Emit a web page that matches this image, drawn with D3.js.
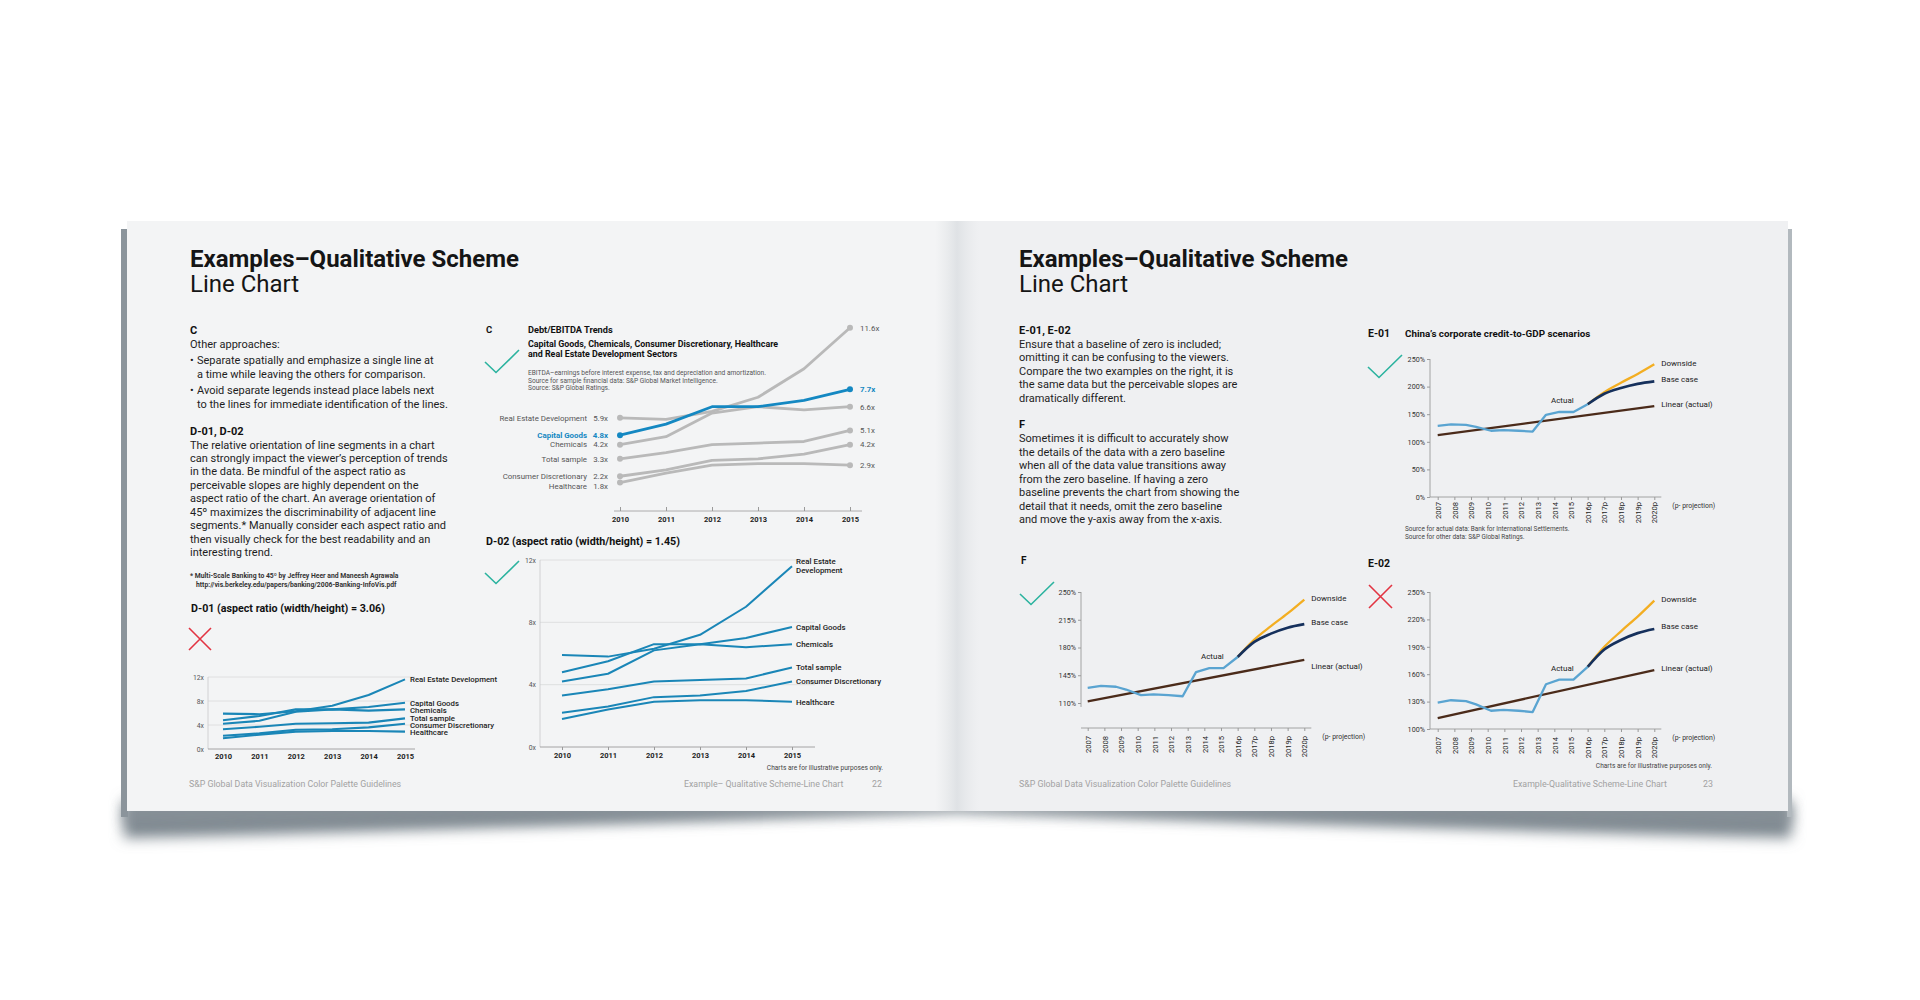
<!DOCTYPE html>
<html><head><meta charset="utf-8">
<script src="https://cdn.jsdelivr.net/npm/d3@7"></script>
<style>
html,body{margin:0;padding:0;background:#fff;}
svg{display:block;}
</style></head>
<body><svg id="c" width="1920" height="1000"></svg>
<script>
// ---------------- DATA ----------------
const years = [2010, 2011, 2012, 2013, 2014, 2015];
const sectorNames = ["Real Estate Development", "Capital Goods", "Chemicals", "Total sample", "Consumer Discretionary", "Healthcare"];
const realEstate   = [5.9, 5.8, 6.3, 7.2, 9.0, 11.6];
const capitalGoods = [4.8, 5.5, 6.6, 6.6, 7.0, 7.7];
const chemicals    = [4.2, 4.7, 6.2, 6.6, 6.4, 6.6];
const totalSample  = [3.3, 3.7, 4.2, 4.3, 4.4, 5.1];
const consumerDisc = [2.2, 2.6, 3.2, 3.3, 3.6, 4.2];
const healthcare   = [1.8, 2.4, 2.9, 3.0, 3.0, 2.9];
const sectorValues = [realEstate, capitalGoods, chemicals, totalSample, consumerDisc, healthcare];
const multipleTicks = [0, 4, 8, 12];

const chinaTickYears = [2007, 2008, 2009, 2010, 2011, 2012, 2013, 2014, 2015, 2016, 2017, 2018, 2019, 2020];
const chinaTickLabels = ["2007", "2008", "2009", "2010", "2011", "2012", "2013", "2014", "2015", "2016p", "2017p", "2018p", "2019p", "2020p"];
const actualYears = [2007, 2007.8, 2008.7, 2009.3, 2010.2, 2010.95, 2011.85, 2012.7, 2013.5, 2014.3, 2015.15, 2016];
const actualVals  = [129, 131.5, 130.5, 127, 120, 121, 120, 118.5, 149, 154, 154, 168];
const projYears   = [2016, 2017, 2018, 2019, 2020];
const baseVals    = [168, 187, 197.5, 205, 209.5];
const downVals    = [168, 190, 207, 223, 240.5];
const linearYears = [2007, 2020];
const linearVals  = [112, 164.5];
const e01Ticks = [0, 50, 100, 150, 200, 250];
const fTicks   = [110, 145, 180, 215, 250];
const e02Ticks = [100, 130, 160, 190, 220, 250];

// ---------------- SETUP ----------------
const FONT = "Roboto, 'Liberation Sans', Arial, sans-serif";
const svg = d3.select("#c");
const defs = svg.append("defs");
function hGrad(id, stops) {
  const g = defs.append("linearGradient").attr("id", id).attr("x1", 0).attr("y1", 0).attr("x2", 1).attr("y2", 0);
  stops.forEach(s => g.append("stop").attr("offset", s[0]).attr("stop-color", s[1]).attr("stop-opacity", s[2]));
}
hGrad("spine", [["0%", "#e6e8ea", 0], ["50%", "#dfe2e5", 1], ["100%", "#e6e8ea", 0]]);
defs.append("filter").attr("id", "blur").attr("x", "-5%").attr("y", "-100%").attr("width", "110%").attr("height", "300%")
  .append("feGaussianBlur").attr("stdDeviation", 7);

svg.append("rect").attr("width", 1920).attr("height", 1000).attr("fill", "#ffffff");
// bottom shadow (soft)
svg.append("path")
  .attr("d", "M124,800 L1791,800 L1791,838 Q1390,828 957,810 Q524,828 124,838 Z")
  .attr("fill", "#7c868e").attr("filter", "url(#blur)");
svg.append("path")
  .attr("d", "M124,806 L1791,806 L1791,824 Q1390,820 957,811 Q524,820 124,824 Z")
  .attr("fill", "#8a939a").attr("opacity", 0.8).attr("filter", "url(#blur)");
// side shadows
svg.append("rect").attr("x", 121).attr("y", 229).attr("width", 7).attr("height", 588).attr("fill", "#8b949b");
svg.append("rect").attr("x", 1787).attr("y", 229).attr("width", 5).attr("height", 588).attr("fill", "#b2b9be");
// pages
svg.append("rect").attr("x", 127).attr("y", 221).attr("width", 830).attr("height", 590).attr("fill", "#f3f4f5");
svg.append("rect").attr("x", 957).attr("y", 221).attr("width", 831).attr("height", 590).attr("fill", "#eff0f2");
svg.append("rect").attr("x", 935).attr("y", 221).attr("width", 44).attr("height", 590).attr("fill", "url(#spine)");

function txt(g, x, y, s, o = {}) {
  const t = g.append("text").attr("x", x).attr("y", y).text(s)
    .attr("font-family", FONT)
    .attr("font-size", o.size || 10)
    .attr("font-weight", o.weight || 400)
    .attr("fill", o.color || "#1e1e1e")
    .attr("text-anchor", o.anchor || "start");
  if (o.ls) t.attr("letter-spacing", o.ls);
  return t;
}
function lines(g, x, y0, lh, arr, o) {
  arr.forEach((s, i) => txt(g, x, y0 + i * lh, s, o));
}
function check(g, x, y) {
  g.append("path").attr("d", `M${x},${y} L${x + 11},${y + 10.5} L${x + 34},${y - 12}`)
    .attr("fill", "none").attr("stroke", "#2bb39f").attr("stroke-width", 1.6);
}
function cross(g, x, y, s) {
  g.append("path").attr("d", `M${x},${y} L${x + s},${y + s} M${x + s},${y} L${x},${y + s}`)
    .attr("fill", "none").attr("stroke", "#e23442").attr("stroke-width", 1.6);
}
function dodge(items, gap) {
  items.sort((a, b) => a.y - b.y);
  for (let i = 1; i < items.length; i++) {
    if (items[i].y < items[i - 1].y + gap) items[i].y = items[i - 1].y + gap;
  }
  return items;
}
function styleAxis(g, size, color, weight) {
  g.attr("font-family", FONT).attr("font-size", size);
  g.selectAll("text").attr("fill", color).attr("font-weight", weight);
  g.selectAll(".tick line").attr("stroke", "#9a9a9a");
  g.select(".domain").remove();
}
const root = svg.append("g");

// ---------------- PAGE TEXT ----------------
const TITLE = 24;
txt(root, 190, 267, "Examples\u2013Qualitative Scheme", {size: TITLE, weight: 700, color: "#151515"});
txt(root, 190, 292, "Line Chart", {size: TITLE, weight: 400, color: "#151515"});
txt(root, 1019, 267, "Examples\u2013Qualitative Scheme", {size: TITLE, weight: 700, color: "#151515"});
txt(root, 1019, 292, "Line Chart", {size: TITLE, weight: 400, color: "#151515"});

const BODY = {size: 11, color: "#1e1e1e"};
const HEAD = {size: 11, weight: 700, color: "#111"};
txt(root, 190, 334, "C", HEAD);
txt(root, 190, 348, "Other approaches:", BODY);
txt(root, 190, 364, "\u2022", BODY); txt(root, 197, 364, "Separate spatially and emphasize a single line at", BODY);
txt(root, 197, 378, "a time while leaving the others for comparison.", BODY);
txt(root, 190, 394, "\u2022", BODY); txt(root, 197, 394, "Avoid separate legends instead place labels next", BODY);
txt(root, 197, 408, "to the lines for immediate identification of the lines.", BODY);
txt(root, 190, 435, "D-01, D-02", HEAD);
lines(root, 190, 448.5, 13.45, [
  "The relative orientation of line segments in a chart",
  "can strongly impact the viewer\u2019s perception of trends",
  "in the data. Be mindful of the aspect ratio as",
  "perceivable slopes are highly dependent on the",
  "aspect ratio of the chart. An average orientation of",
  "45\u00ba maximizes the discriminability of adjacent line",
  "segments.* Manually consider each aspect ratio and",
  "then visually check for the best readability and an",
  "interesting trend."
], BODY);
txt(root, 190, 577.5, "* Multi-Scale Banking to 45\u00ba by Jeffrey Heer and Maneesh Agrawala", {size: 6.8, weight: 700, color: "#333"});
txt(root, 196, 586.5, "http://vis.berkeley.edu/papers/banking/2006-Banking-InfoVis.pdf", {size: 6.8, weight: 700, color: "#333"});

txt(root, 1019, 334, "E-01, E-02", HEAD);
lines(root, 1019, 348, 13.4, [
  "Ensure that a baseline of zero is included;",
  "omitting it can be confusing to the viewers.",
  "Compare the two examples on the right, it is",
  "the same data but the perceivable slopes are",
  "dramatically different."
], BODY);
txt(root, 1019, 428, "F", HEAD);
lines(root, 1019, 442, 13.5, [
  "Sometimes it is difficult to accurately show",
  "the details of the data with a zero baseline",
  "when all of the data value transitions away",
  "from the zero baseline. If having a zero",
  "baseline prevents the chart from showing the",
  "detail that it needs, omit the zero baseline",
  "and move the y-axis away from the x-axis."
], BODY);

// footers
const FOOT = {size: 8.8, color: "#a2a2a2"};
txt(root, 189, 787, "S&P Global Data Visualization Color Palette Guidelines", FOOT);
txt(root, 684, 787, "Example\u2013 Qualitative Scheme-Line Chart", FOOT);
txt(root, 872, 787, "22", FOOT);
txt(root, 1019, 787, "S&P Global Data Visualization Color Palette Guidelines", FOOT);
txt(root, 1513, 787, "Example-Qualitative Scheme-Line Chart", FOOT);
txt(root, 1703, 787, "23", FOOT);
txt(root, 883, 770, "Charts are for illustrative purposes only.", {size: 6.6, color: "#444", anchor: "end"});
txt(root, 1712, 768, "Charts are for illustrative purposes only.", {size: 6.6, color: "#444", anchor: "end"});

// ---------------- CHART C ----------------
(function () {
  const g = svg.append("g");
  txt(g, 486, 333, "C", {size: 9.5, weight: 700, color: "#111"});
  txt(g, 528, 333, "Debt/EBITDA Trends", {size: 9.2, weight: 700, color: "#111"});
  txt(g, 528, 347, "Capital Goods, Chemicals, Consumer Discretionary, Healthcare", {size: 8.9, weight: 700, color: "#111"});
  txt(g, 528, 357, "and Real Estate Development Sectors", {size: 8.9, weight: 700, color: "#111"});
  const NOTE = {size: 6.6, color: "#555"};
  txt(g, 528, 375, "EBITDA\u2013earnings before interest expense, tax and depreciation and amortization.", NOTE);
  txt(g, 528, 382.5, "Source for sample financial data: S&P Global Market Intelligence.", NOTE);
  txt(g, 528, 390, "Source: S&P Global Ratings.", NOTE);
  check(g, 485, 362);

  const x = d3.scaleLinear().domain([2010, 2015]).range([620, 850]);
  const y = d3.scaleLinear().domain([0, 12]).range([511, 321.4]);
  g.append("line").attr("x1", 614).attr("x2", 862).attr("y1", y(0)).attr("y2", y(0)).attr("stroke", "#9a9a9a").attr("stroke-width", 0.8);
  const ax = g.append("g").attr("transform", `translate(0,${y(0)})`)
    .call(d3.axisBottom(x).tickValues(years).tickFormat(d3.format("d")).tickSize(-4).tickPadding(6));
  styleAxis(ax, 7.5, "#222", 700);

  const ln = d3.line().x((d, i) => x(years[i])).y(d => y(d));
  const BLUE = "#1488c2", GREY = "#b9b9b9";
  const order = [0, 2, 3, 4, 5, 1];
  order.forEach(k => {
    const col = k === 1 ? BLUE : GREY;
    g.append("path").datum(sectorValues[k]).attr("d", ln).attr("fill", "none")
      .attr("stroke", col).attr("stroke-width", 2.8).attr("stroke-linejoin", "round");
    [0, 5].forEach(i => g.append("circle").attr("cx", x(years[i])).attr("cy", y(sectorValues[k][i])).attr("r", 3).attr("fill", col));
  });
  const left = dodge(sectorValues.map((v, k) => ({k, y: y(v[0])})), 9.5);
  left.forEach(o => {
    const hl = o.k === 1;
    const st = {size: 7.9, color: hl ? BLUE : "#555", weight: hl ? 700 : 400, anchor: "end"};
    txt(g, 587, o.y + 2.8, sectorNames[o.k], st);
    txt(g, 608, o.y + 2.8, sectorValues[o.k][0].toFixed(1) + "x", st);
  });
  const right = dodge(sectorValues.map((v, k) => ({k, y: y(v[5])})), 9.5);
  right.forEach(o => {
    const hl = o.k === 1;
    txt(g, 860, o.y + 2.8, sectorValues[o.k][5].toFixed(1) + "x", {size: 7.9, color: hl ? BLUE : "#555", weight: hl ? 700 : 400});
  });
})();

// ---------------- D CHARTS ----------------
function dChart(o) {
  const g = svg.append("g");
  const x = d3.scaleLinear().domain([2010, 2015]).range(o.xr);
  const y = d3.scaleLinear().domain([0, 12]).range(o.yr);
  multipleTicks.filter(t => t > 0).forEach(t =>
    g.append("line").attr("x1", o.ax0).attr("x2", o.ax1).attr("y1", y(t)).attr("y2", y(t)).attr("stroke", "#d9dadb").attr("stroke-width", 0.8));
  g.append("line").attr("x1", o.ax0).attr("x2", o.ax0).attr("y1", y(12)).attr("y2", y(0)).attr("stroke", "#c8c9ca").attr("stroke-width", 0.8);
  g.append("line").attr("x1", o.ax0).attr("x2", o.ax1).attr("y1", y(0)).attr("y2", y(0)).attr("stroke", "#8f8f8f").attr("stroke-width", 0.8);
  const ay = g.append("g").attr("transform", `translate(${o.ax0},0)`)
    .call(d3.axisLeft(y).tickValues(multipleTicks).tickFormat(d => d + "x").tickSize(0).tickPadding(4));
  styleAxis(ay, 6.8, "#555", 400);
  const ax = g.append("g").attr("transform", `translate(0,${y(0)})`)
    .call(d3.axisBottom(x).tickValues(years).tickFormat(d3.format("d")).tickSize(o.tick).tickPadding(o.pad));
  styleAxis(ax, 7.5, "#222", 700);
  const ln = d3.line().x((d, i) => x(years[i])).y(d => y(d));
  sectorValues.forEach(v => g.append("path").datum(v).attr("d", ln).attr("fill", "none")
    .attr("stroke", "#1a86b7").attr("stroke-width", o.sw).attr("stroke-linejoin", "round"));
  const labs = dodge(sectorValues.map((v, k) => ({k, y: y(v[5])})), o.gap);
  labs.forEach(l => {
    const nm = sectorNames[l.k];
    if (o.split && l.k === 0) {
      txt(g, o.lx, l.y - 2.5, "Real Estate", {size: o.ls, weight: 500, color: "#222"});
      txt(g, o.lx, l.y + 6.8, "Development", {size: o.ls, weight: 500, color: "#222"});
    } else {
      txt(g, o.lx, l.y + 2.8, nm, {size: o.ls, weight: 500, color: "#222"});
    }
  });
  return g;
}
const d02 = dChart({xr: [562, 792], yr: [747, 560], ax0: 540, ax1: 815, tick: 3, pad: 3, sw: 2, gap: 9, lx: 796, ls: 7.9, split: true});
txt(d02, 486, 545, "D-02 (aspect ratio (width/height) = 1.45)", {size: 10.7, weight: 700, color: "#111"});
check(d02, 485, 573);
const d01 = dChart({xr: [223, 405], yr: [749, 677], ax0: 208, ax1: 415, tick: 0, pad: 5, sw: 2.1, gap: 7, lx: 410, ls: 7.8, split: false});
txt(d01, 191, 612, "D-01 (aspect ratio (width/height) = 3.06)", {size: 10.7, weight: 700, color: "#111"});
cross(d01, 189, 628, 22);

// ---------------- CHINA CHARTS ----------------
function chinaChart(o) {
  const g = svg.append("g");
  const x = d3.scaleLinear().domain([2007, 2020]).range(o.xr);
  const y = d3.scaleLinear().domain(o.dom).range(o.yr);
  g.append("line").attr("x1", o.yx).attr("x2", o.yx).attr("y1", y(o.dom[1])).attr("y2", o.yEnd).attr("stroke", "#8f8f8f").attr("stroke-width", 0.8);
  const ay = g.append("g").attr("transform", `translate(${o.yx},0)`)
    .call(d3.axisLeft(y).tickValues(o.ticks).tickFormat(d => d + "%").tickSize(3).tickPadding(2));
  styleAxis(ay, 7.2, "#333", 400);
  g.append("line").attr("x1", o.yx).attr("x2", o.xr[1] + 7).attr("y1", o.axY).attr("y2", o.axY).attr("stroke", "#8f8f8f").attr("stroke-width", 0.8);
  const ax = g.append("g").attr("transform", `translate(0,${o.axY})`)
    .call(d3.axisBottom(x).tickValues(chinaTickYears).tickFormat((d, i) => chinaTickLabels[i]).tickSize(3));
  styleAxis(ax, 7.6, "#222", 400);
  ax.selectAll("text").attr("transform", "rotate(-90)").attr("text-anchor", "end")
    .attr("x", -o.lab).attr("y", 0).attr("dy", "0.35em");
  txt(g, o.xr[1] + 18, o.axY + 11, "(p- projection)", {size: 6.9, color: "#333"});

  const ln = d3.line().x(d => x(d[0])).y(d => y(d[1])).curve(d3.curveMonotoneX);
  const lin = d3.line().x(d => x(d[0])).y(d => y(d[1]));
  g.append("path").datum(linearYears.map((t, i) => [t, linearVals[i]])).attr("d", lin)
    .attr("fill", "none").attr("stroke", "#4b2b1a").attr("stroke-width", 2.3);
  g.append("path").datum(projYears.map((t, i) => [t, downVals[i]])).attr("d", ln)
    .attr("fill", "none").attr("stroke", "#f3ae22").attr("stroke-width", 2.3);
  g.append("path").datum(projYears.map((t, i) => [t, baseVals[i]])).attr("d", ln)
    .attr("fill", "none").attr("stroke", "#15305c").attr("stroke-width", 2.7);
  g.append("path").datum(actualYears.map((t, i) => [t, actualVals[i]])).attr("d", lin)
    .attr("fill", "none").attr("stroke", "#5aa4d1").attr("stroke-width", 2.3).attr("stroke-linejoin", "round");

  const LAB = {size: 8, color: "#222"};
  txt(g, o.xr[1] + 7, y(downVals[4]) + 1.5, "Downside", LAB);
  txt(g, o.xr[1] + 7, y(baseVals[4]) + 0.5, "Base case", LAB);
  txt(g, o.xr[1] + 7, y(linearVals[1]) + 1 + o.linOff, "Linear (actual)", LAB);
  txt(g, x(actualYears[9]) + 3, y(actualVals[9]) - 9, "Actual", {size: 8, color: "#222", anchor: "middle"});
  return g;
}
const e01 = chinaChart({xr: [1437.7, 1654.3], dom: [0, 250], yr: [497, 359], ticks: e01Ticks, yx: 1430, yEnd: 497, axY: 497, lab: 5, linOff: 0});
txt(e01, 1368, 337, "E-01", {size: 10.5, weight: 700, color: "#111"});
txt(e01, 1405, 337, "China\u2019s corporate credit-to-GDP scenarios", {size: 9.8, weight: 700, color: "#111"});
check(e01, 1368, 367);
txt(e01, 1405, 531, "Source for actual data: Bank for International Settlements.", {size: 6.4, color: "#444"});
txt(e01, 1405, 539, "Source for other data: S&P Global Ratings.", {size: 6.4, color: "#444"});

const fch = chinaChart({xr: [1087.7, 1304.3], dom: [110, 250], yr: [703, 592], ticks: fTicks, yx: 1081, yEnd: 707, axY: 728, lab: 8, linOff: 8});
txt(fch, 1021, 564, "F", {size: 10, weight: 700, color: "#111"});
check(fch, 1020, 594);

const e02 = chinaChart({xr: [1437.7, 1654.3], dom: [100, 250], yr: [729, 592], ticks: e02Ticks, yx: 1430, yEnd: 729, axY: 729, lab: 8, linOff: 0});
txt(e02, 1368, 567, "E-02", {size: 10.5, weight: 700, color: "#111"});
cross(e02, 1369, 585, 23);
</script>
</body></html>
